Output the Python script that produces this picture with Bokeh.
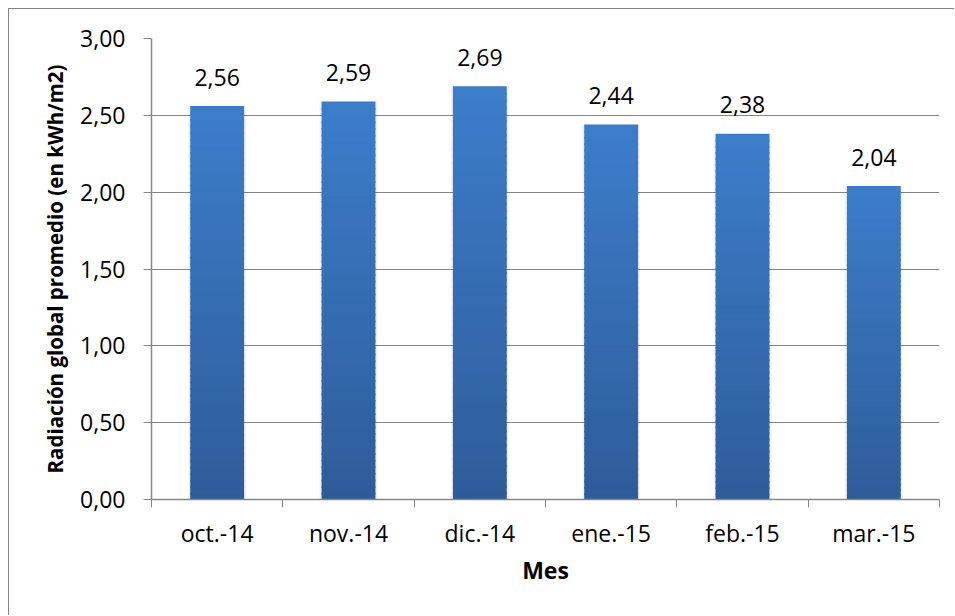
from bokeh.plotting import figure
from bokeh.models import FixedTicker, Range1d, ColumnDataSource
from bokeh.embed import file_html
from bokeh.resources import INLINE
from bokeh.core.properties import value

# ---- data ----
months = ["oct.-14", "nov.-14", "dic.-14", "ene.-15", "feb.-15", "mar.-15"]
radiation = [2.56, 2.59, 2.69, 2.44, 2.38, 2.04]
y_ticks = [0.0, 0.5, 1.0, 1.5, 2.0, 2.5, 3.0]

FONT = "Open Sans"
GRID = "#868686"
TOP_C = (0x3C, 0x7D, 0xCA)
BOT_C = (0x2E, 0x5C, 0x99)

p = figure(width=946, height=607, output_backend="svg", toolbar_location=None,
           x_range=Range1d(0, len(months)), y_range=Range1d(0, 3.0),
           min_border_left=142, min_border_right=16, min_border_top=29, min_border_bottom=117)
p.styles = {"margin-left": "8px", "margin-top": "8px",
            "border-left": "1px solid #868686", "border-top": "1px solid #868686"}
p.outline_line_color = None
p.background_fill_color = "white"
p.border_fill_color = "white"

xc = [i + 0.5 for i in range(len(months))]

# faint shadow behind bars
p.vbar(x=xc, top=radiation, bottom=0, width=0.44, fill_color="black", fill_alpha=0.05,
       line_color=None)

# gradient bars (light at top, dark at bottom), built as stacked slices
N = 60
sx, sb, st, sc = [], [], [], []
for x, v in zip(xc, radiation):
    for k in range(N):
        t = (k + 0.5) / N
        r = round(BOT_C[0] + (TOP_C[0] - BOT_C[0]) * t)
        g = round(BOT_C[1] + (TOP_C[1] - BOT_C[1]) * t)
        b = round(BOT_C[2] + (TOP_C[2] - BOT_C[2]) * t)
        sx.append(x)
        sb.append(max(0.0, v * k / N - 0.012))
        st.append(v * (k + 1) / N)
        sc.append("#%02x%02x%02x" % (r, g, b))
p.vbar(x=sx, bottom=sb, top=st, width=0.41, fill_color=sc, line_color=None)

# value labels
lbl = ColumnDataSource(dict(x=xc, y=radiation, t=[f"{v:.2f}".replace(".", ",") for v in radiation]))
p.text(x="x", y="y", text="t", source=lbl, text_align="center", text_baseline="alphabetic",
       y_offset=-29, text_font=value(FONT), text_font_size="23px", text_color="black")

# x axis: ticks at boundaries (minor), labels at centres (major)
xa = p.xaxis[0]
xa.ticker = FixedTicker(ticks=xc, minor_ticks=list(range(len(months) + 1)))
xa.major_label_overrides = {x: m for x, m in zip(xc, months)}
xa.major_tick_out = 0
xa.major_tick_in = 0
xa.minor_tick_out = 8
xa.minor_tick_in = 0
xa.minor_tick_line_color = GRID
xa.axis_line_color = GRID
xa.axis_line_width = 1.5
xa.major_label_text_font = FONT
xa.major_label_text_font_size = "23px"
xa.major_label_text_color = "black"
xa.major_label_standoff = 9
xa.axis_label = "Mes"
xa.axis_label_text_font = FONT
xa.axis_label_text_font_style = "bold"
xa.axis_label_text_font_size = "23px"
xa.axis_label_text_color = "black"
xa.axis_label_standoff = 2

ya = p.yaxis[0]
ya.ticker = FixedTicker(ticks=y_ticks, minor_ticks=[])
ya.major_label_overrides = {t: f"{t:.2f}".replace(".", ",") for t in y_ticks}
ya.major_tick_out = 8
ya.major_tick_in = 0
ya.major_tick_line_color = GRID
ya.axis_line_color = GRID
ya.axis_line_width = 1.5
ya.minor_tick_line_color = None
ya.major_label_text_font = FONT
ya.major_label_text_font_size = "23px"
ya.major_label_text_color = "black"
ya.major_label_standoff = 18
ya.axis_label = "Radiación global promedio (en kWh/m2)"
ya.axis_label_text_font = FONT
ya.axis_label_text_font_style = "bold"
ya.axis_label_text_font_size = "20.5px"
ya.axis_label_text_color = "black"
ya.axis_label_standoff = 8

p.xgrid.grid_line_color = None
p.ygrid.grid_line_color = GRID
p.ygrid.grid_line_width = 1
p.ygrid.ticker = FixedTicker(ticks=y_ticks)

open("out.html", "w").write(file_html(p, INLINE))
